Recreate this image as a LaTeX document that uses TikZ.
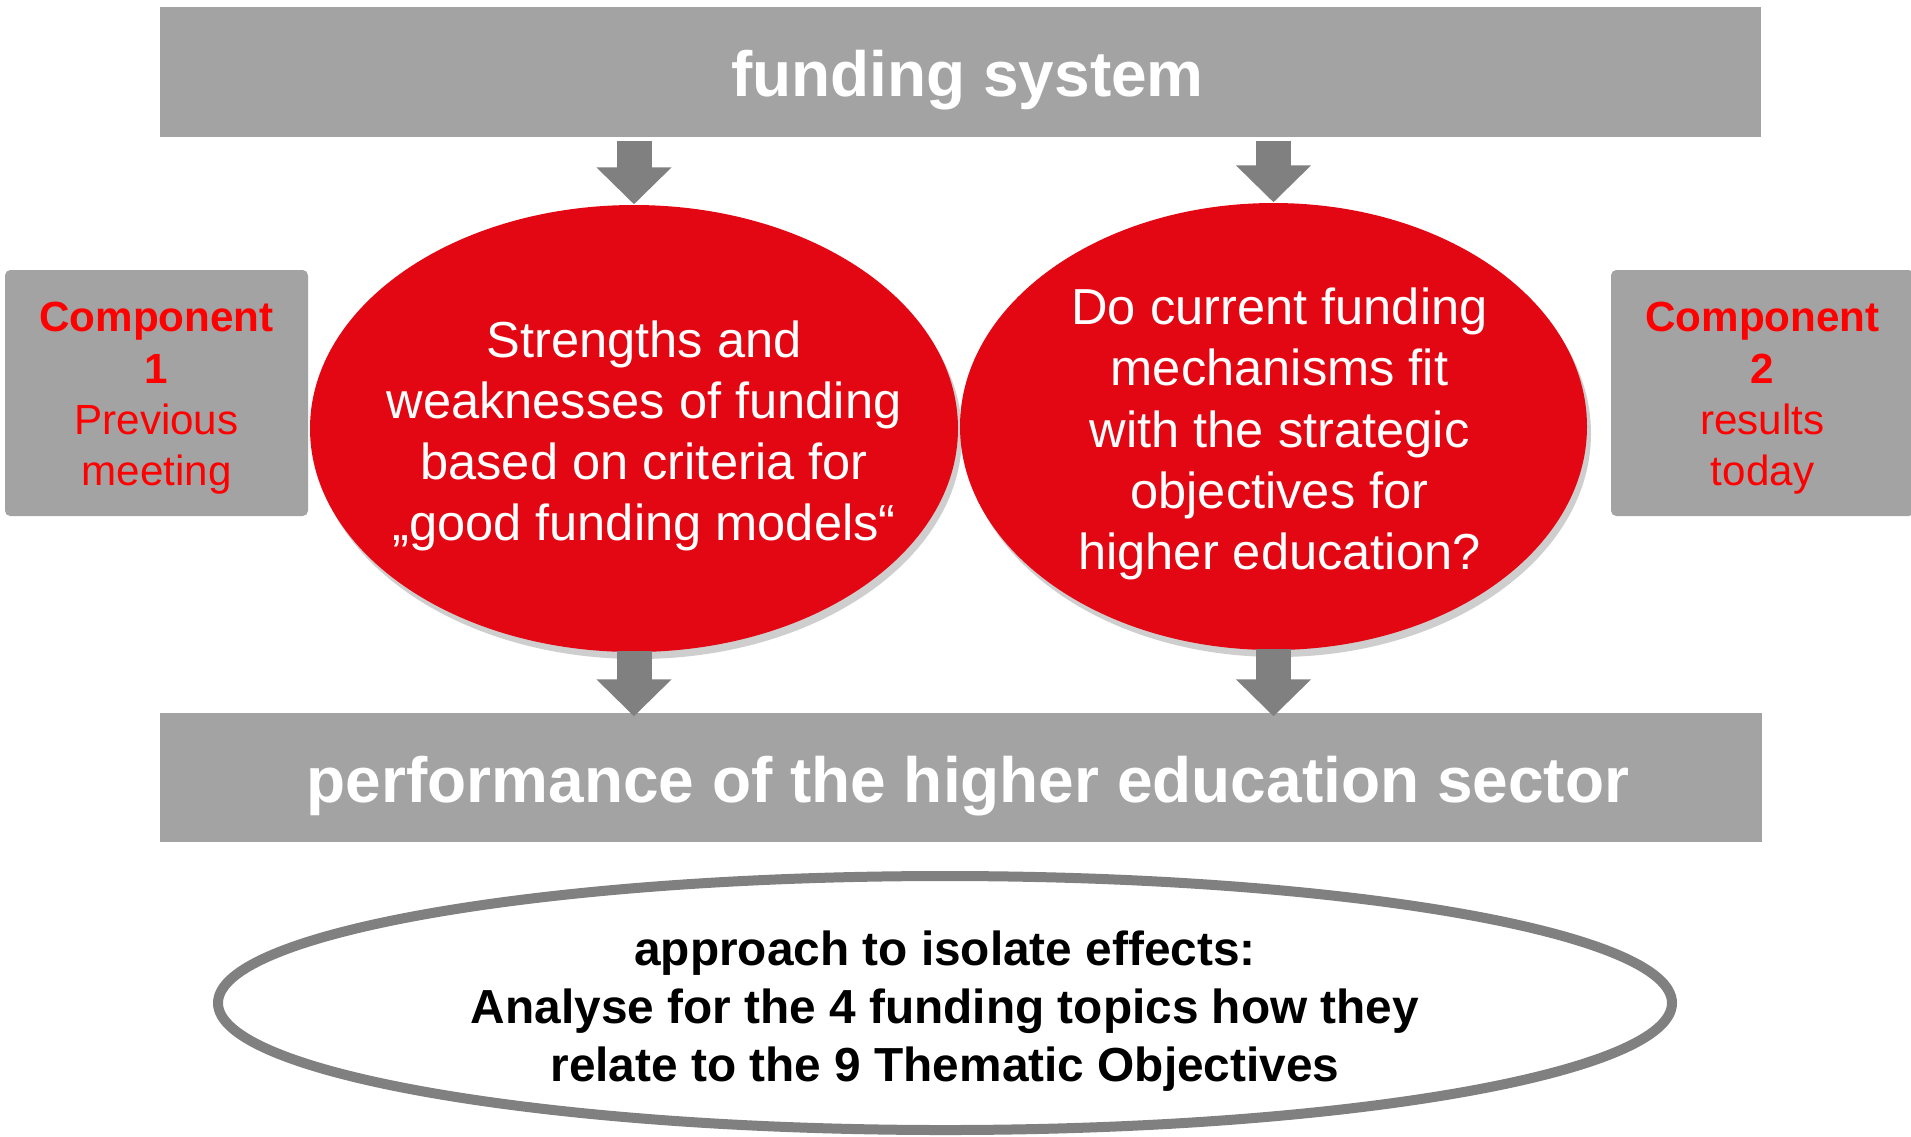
\documentclass[tikz,border=0pt]{standalone}
\usepackage{fontspec}
\setmainfont{Liberation Sans}
\usetikzlibrary{shapes.geometric,arrows.meta,shadows,positioning}
\definecolor{bargray}{RGB}{163,163,163}
\definecolor{arrowgray}{RGB}{128,128,128}
\definecolor{ellred}{RGB}{227,6,19}
\definecolor{comptext}{RGB}{255,0,0}
\tikzset{bar node/.style={rectangle,fill=bargray,draw=none,minimum width=16.01cm,minimum height=1.30cm,inner sep=0pt},
         bar text/.style={inner sep=0pt,text=white,xshift=0.07cm,yshift=-0.085cm,font=\fontsize{18.2}{21.8}\selectfont\bfseries},
         red node/.style={ellipse,fill=ellred,draw=none,inner sep=0pt,minimum height=4.47cm,
                          drop shadow={shadow xshift=0.04cm,shadow yshift=-0.07cm,fill=black!55,opacity=0.35}},
         red text/.style={inner sep=0pt,align=center,text=white,yshift=-0.075cm,font=\fontsize{14.4}{17.4}\selectfont},
         comp node/.style={rectangle,rounded corners=1.5pt,fill=bargray,draw=none,minimum width=3.03cm,minimum height=2.46cm,
                           inner sep=0pt},
         comp text/.style={inner sep=0pt,align=center,text=comptext,yshift=-0.055cm,font=\fontsize{12}{14.6}\selectfont},
         fat arrow/.style={draw=arrowgray,line width=0.35cm,-{Triangle[width=0.73cm,length=0.37cm]}},
         approach node/.style={ellipse,draw=arrowgray,line width=0.1cm,fill=white,minimum width=14.54cm,minimum height=2.54cm,
                               inner sep=0pt},
         approach text/.style={inner sep=0pt,align=center,yshift=-0.085cm,font=\fontsize{13.6}{16.5}\selectfont\bfseries},
}

\begin{document}
\begin{tikzpicture}
\useasboundingbox (0,0) rectangle (19.11,-11.36);
% \draw[help lines] (0,0) grid (19,-11);
\node[bar node,label={[bar text]center:funding system}] (fund) at (9.605,-0.72) {};
\node[bar node,minimum width=16.02cm,minimum height=1.29cm,
      label={[bar text]center:performance of the higher education sector}] (perf) at (9.61,-7.775) {};

\node[red node,minimum width=6.48cm,
      label={[red text,xshift=0.1cm]center:Strengths and\\ weaknesses of funding\\ based on criteria for\\ „good funding models“}] (crit) at (6.34,-4.285) {};
\node[red node,minimum width=6.27cm,
      label={[red text,xshift=0.06cm]center:Do current funding\\ mechanisms fit\\ with the strategic\\ objectives for\\ higher education?}] (fit) at (12.735,-4.265) {};

\node[comp node,label={[comp text]center:\textbf{Component}\\ \textbf{1}\\ Previous\\ meeting}] (comp1) at (1.565,-3.93) {};
\node[comp node,label={[comp text]center:\textbf{Component}\\ \textbf{2}\\ results\\ today}] (comp2) at (17.625,-3.93) {};

\draw[fat arrow] ([yshift=-0.03cm]fund.south -| crit.north) -- (crit.north);
\draw[fat arrow] ([yshift=-0.03cm]fund.south -| fit.north) -- (fit.north);
\draw[fat arrow] ([yshift=0.02cm]crit.south) -- ([yshift=-0.04cm]crit.south |- perf.north);
\draw[fat arrow] ([yshift=0.02cm]fit.south) -- ([yshift=-0.04cm]fit.south |- perf.north);

\node[approach node,label={[approach text]center:approach to isolate effects:\\ Analyse for the 4 funding topics how they\\ relate to the 9 Thematic Objectives}] (appr) at (9.45,-10.03) {};
\end{tikzpicture}
\end{document}
